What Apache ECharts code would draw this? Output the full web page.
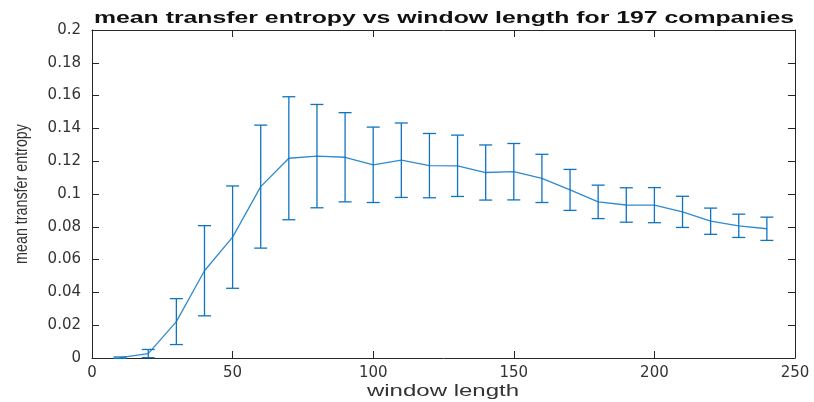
<!DOCTYPE html>
<html>
<head>
<meta charset="utf-8">
<script src="https://cdn.jsdelivr.net/npm/echarts@6/dist/echarts.min.js"></script>
<style>
  html, body { margin: 0; padding: 0; background: #fff; }
  #chart { width: 814px; height: 402px; }
</style>
</head>
<body>
<div id="chart"></div>
<script>
// window lengths and mean transfer entropy with error half-widths
var windowLength = [10, 20, 30, 40, 50, 60, 70, 80, 90, 100, 110, 120, 130, 140, 150, 160, 170, 180, 190, 200, 210, 220, 230, 240];
var meanTE = [0.0002, 0.0027, 0.0222, 0.0532, 0.0737, 0.1045, 0.1218, 0.1231, 0.1224, 0.1178, 0.1206, 0.1173, 0.1172, 0.1131, 0.1136, 0.1095, 0.1025, 0.0952, 0.0933, 0.0932, 0.0891, 0.0834, 0.0806, 0.0788];
var errTE = [0.0004, 0.0025, 0.0140, 0.0275, 0.0312, 0.0375, 0.0375, 0.0315, 0.0272, 0.0230, 0.0227, 0.0196, 0.0187, 0.0168, 0.0172, 0.0147, 0.0125, 0.0102, 0.0105, 0.0107, 0.0095, 0.0080, 0.0071, 0.0071];
var xTicks = [0, 50, 100, 150, 200, 250];
var yTicks = [0, 0.02, 0.04, 0.06, 0.08, 0.1, 0.12, 0.14, 0.16, 0.18, 0.2];

var titleText = 'mean transfer entropy vs window length for 197 companies';
var xName = 'window length';
var yName = 'mean transfer entropy';

var lineColor = '#2f8ad0';
var barColor = '#1174bf';
var textColor = '#333333';
var axisColor = '#262626';

var meanData = windowLength.map(function (x, i) { return [x, meanTE[i]]; });
var errData = windowLength.map(function (x, i) { return [x, meanTE[i] - errTE[i], meanTE[i] + errTE[i]]; });

function renderErrorBar(params, api) {
  var x = api.value(0);
  var lo = api.coord([x, api.value(1)]);
  var hi = api.coord([x, api.value(2)]);
  var half = 6.5;
  var style = { stroke: barColor, lineWidth: 1.3 };
  return {
    type: 'group',
    children: [
      { type: 'line', shape: { x1: lo[0], y1: lo[1], x2: hi[0], y2: hi[1] }, style: style },
      { type: 'line', shape: { x1: lo[0] - half, y1: lo[1], x2: lo[0] + half, y2: lo[1] }, style: style },
      { type: 'line', shape: { x1: hi[0] - half, y1: hi[1], x2: hi[0] + half, y2: hi[1] }, style: style }
    ]
  };
}

var xCommon = {
  type: 'value',
  min: xTicks[0],
  max: xTicks[xTicks.length - 1],
  interval: 50,
  splitLine: { show: false },
  axisLine: { show: true, onZero: false, lineStyle: { color: axisColor, width: 1 } },
  axisTick: { show: true, inside: true, length: 7, lineStyle: { color: axisColor } }
};
var yCommon = {
  type: 'value',
  min: yTicks[0],
  max: yTicks[yTicks.length - 1],
  interval: 0.02,
  splitLine: { show: false },
  axisLine: { show: true, onZero: false, lineStyle: { color: axisColor, width: 1 } },
  axisTick: { show: true, inside: true, length: 7, lineStyle: { color: axisColor } }
};

var chart = echarts.init(document.getElementById('chart'));
chart.setOption({
  animation: false,
  backgroundColor: '#ffffff',
  // the source picture is stretched sideways, so title and axis names get a scale
  graphic: [
    {
      type: 'text',
      x: 444,
      y: 11,
      scaleX: 1.55,
      style: {
        text: titleText,
        font: 'bold 16px "Liberation Sans", Arial, sans-serif',
        fill: '#111111',
        textAlign: 'center',
        textVerticalAlign: 'top'
      }
    },
    {
      type: 'text',
      x: 443,
      y: 384,
      scaleX: 1.5,
      style: {
        text: xName,
        font: '16px "Liberation Sans", Arial, sans-serif',
        fill: textColor,
        textAlign: 'center',
        textVerticalAlign: 'top'
      }
    },
    {
      type: 'text',
      x: 22,
      y: 194,
      rotation: Math.PI / 2,
      scaleY: 1.3,
      style: {
        text: yName,
        font: '14.3px "Liberation Sans", Arial, sans-serif',
        fill: textColor,
        textAlign: 'center',
        textVerticalAlign: 'middle'
      }
    }
  ],
  grid: { left: 92, right: 19, top: 30, bottom: 44, show: false },
  xAxis: [
    Object.assign({}, xCommon, {
      position: 'bottom',
      axisLabel: { fontFamily: 'DejaVu Sans', fontSize: 15, color: textColor, margin: 8 }
    }),
    Object.assign({}, xCommon, { position: 'top', axisLabel: { show: false } })
  ],
  yAxis: [
    Object.assign({}, yCommon, {
      position: 'left',
      axisLabel: { fontFamily: 'DejaVu Sans', fontSize: 15, color: textColor, margin: 11 }
    }),
    Object.assign({}, yCommon, { position: 'right', axisLabel: { show: false } })
  ],
  series: [
    {
      type: 'line',
      data: meanData,
      symbol: 'none',
      lineStyle: { color: lineColor, width: 1.3 },
      z: 3
    },
    {
      type: 'custom',
      data: errData,
      renderItem: renderErrorBar,
      encode: { x: 0, y: [1, 2] },
      clip: false,
      z: 4
    }
  ]
});
</script>
</body>
</html>
